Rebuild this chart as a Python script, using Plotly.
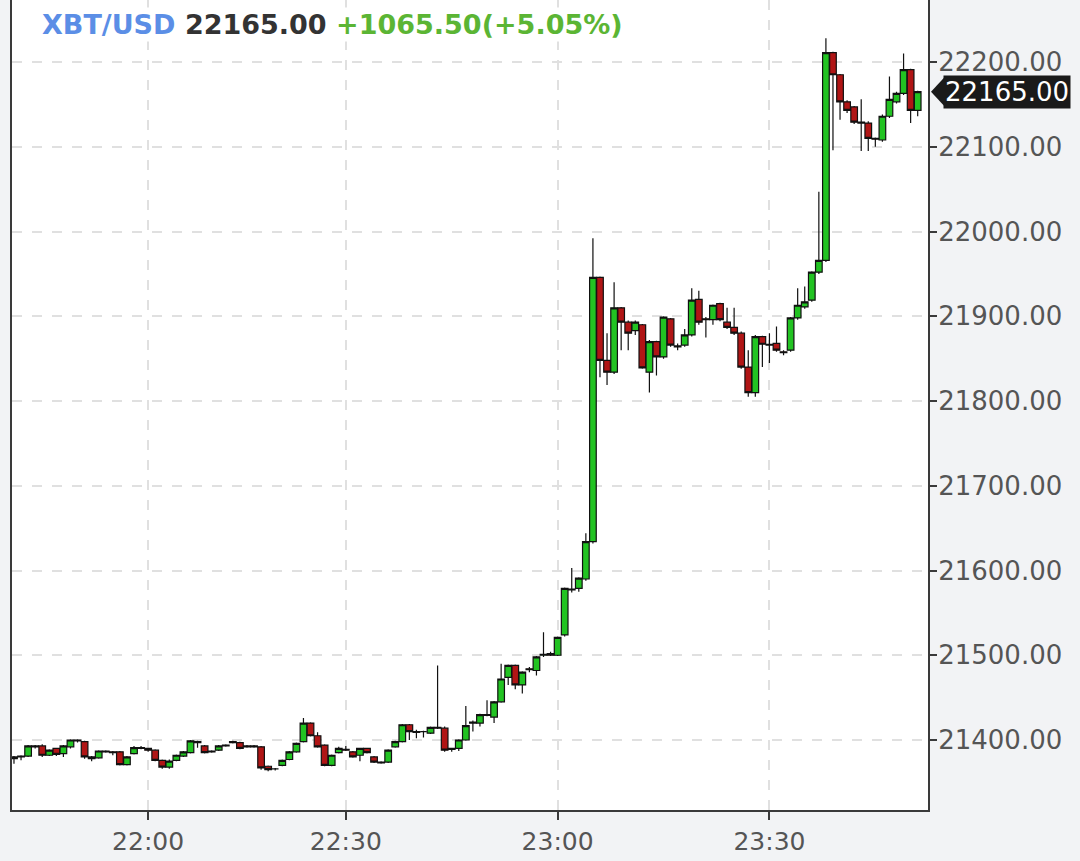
import plotly.graph_objects as go

# ---- data (1-minute bars) ----
opens = [21378, 21380, 21381, 21393, 21393, 21382, 21390, 21384, 21392, 21400,
         21398, 21380, 21379, 21387, 21386, 21386, 21371, 21384, 21391, 21390,
         21388, 21376, 21368, 21376, 21381, 21385, 21398, 21393, 21386, 21388,
         21393, 21397, 21397, 21392, 21393, 21392, 21369, 21366, 21370, 21377,
         21386, 21398, 21420, 21405, 21394, 21370, 21385, 21389, 21386, 21382,
         21390, 21380, 21374, 21374, 21392, 21398, 21418, 21410, 21410, 21408,
         21415, 21414, 21390, 21390, 21400, 21421, 21420, 21430, 21427, 21445,
         21474, 21488, 21465, 21484, 21482, 21500, 21502, 21500, 21524, 21577,
         21579, 21590, 21634, 21946, 21848, 21834, 21910, 21893, 21883, 21890,
         21834, 21870, 21852, 21897, 21865, 21866, 21878, 21920, 21897, 21896,
         21915, 21893, 21887, 21880, 21840, 21810, 21876, 21867, 21868, 21858,
         21860, 21898, 21911, 21919, 21952, 21966, 22211, 22185, 22153, 22147,
         22129, 22128, 22110, 22108, 22136, 22153, 22163, 22191, 22143]
highs = [21381, 21382, 21394, 21394, 21395, 21389, 21391, 21394, 21401, 21401,
         21399, 21381, 21388, 21388, 21387, 21387, 21381, 21393, 21393, 21391,
         21389, 21377, 21377, 21383, 21387, 21400, 21399, 21394, 21388, 21394,
         21395, 21399, 21398, 21394, 21394, 21393, 21370, 21367, 21377, 21387,
         21397, 21426, 21421, 21409, 21395, 21383, 21392, 21393, 21387, 21391,
         21391, 21381, 21375, 21389, 21399, 21419, 21419, 21412, 21411, 21416,
         21488, 21416, 21391, 21401, 21440, 21423, 21431, 21447, 21446, 21490,
         21489, 21489, 21481, 21486, 21499, 21527, 21504, 21522, 21580, 21603,
         21592, 21644, 21992, 21947, 21880, 21940, 21911, 21895, 21895, 21891,
         21872, 21871, 21900, 21898, 21868, 21885, 21933, 21930, 21899, 21914,
         21916, 21910, 21910, 21882, 21860, 21878, 21877, 21880, 21888, 21860,
         21899, 21933, 21935, 21953, 22047, 22228, 22212, 22186, 22155, 22148,
         22156, 22130, 22111, 22138, 22183, 22165, 22210, 22192, 22166]
lows = [21372, 21376, 21380, 21390, 21380, 21381, 21381, 21380, 21390, 21397,
        21378, 21375, 21378, 21385, 21382, 21370, 21370, 21383, 21389, 21386,
        21375, 21366, 21366, 21375, 21380, 21384, 21391, 21384, 21385, 21387,
        21392, 21396, 21389, 21391, 21391, 21365, 21363, 21364, 21369, 21376,
        21385, 21397, 21404, 21391, 21369, 21369, 21384, 21387, 21379, 21375,
        21384, 21373, 21372, 21373, 21391, 21397, 21400, 21402, 21403, 21407,
        21413, 21386, 21386, 21387, 21399, 21410, 21416, 21428, 21420, 21444,
        21465, 21460, 21455, 21480, 21476, 21498, 21499, 21499, 21522, 21574,
        21575, 21588, 21632, 21828, 21819, 21832, 21860, 21860, 21878, 21838,
        21810, 21830, 21850, 21864, 21860, 21864, 21876, 21890, 21875, 21890,
        21894, 21885, 21878, 21838, 21805, 21805, 21840, 21845, 21858, 21854,
        21858, 21896, 21909, 21917, 21950, 21964, 22096, 22132, 22140, 22127,
        22095, 22095, 22100, 22106, 22134, 22151, 22161, 22128, 22136]
closes = [21380, 21381, 21393, 21392, 21382, 21388, 21383, 21393, 21400, 21399,
          21380, 21378, 21387, 21386, 21385, 21371, 21380, 21391, 21390, 21388,
          21376, 21368, 21375, 21382, 21386, 21399, 21397, 21385, 21387, 21393,
          21394, 21398, 21390, 21393, 21392, 21367, 21365, 21366, 21376, 21386,
          21396, 21420, 21405, 21392, 21370, 21382, 21390, 21388, 21380, 21390,
          21385, 21374, 21373, 21388, 21398, 21418, 21410, 21409, 21410, 21415,
          21414, 21388, 21389, 21400, 21417, 21420, 21430, 21429, 21445, 21472,
          21488, 21465, 21480, 21483, 21498, 21501, 21500, 21521, 21579, 21578,
          21591, 21634, 21946, 21848, 21834, 21910, 21893, 21880, 21893, 21839,
          21870, 21852, 21899, 21866, 21864, 21878, 21919, 21893, 21896, 21913,
          21896, 21887, 21880, 21840, 21810, 21876, 21867, 21866, 21860, 21857,
          21898, 21913, 21917, 21952, 21966, 22211, 22185, 22153, 22143, 22129,
          22128, 22110, 22109, 22136, 22156, 22163, 22191, 22143, 22165]

bar_index = list(range(len(closes)))
tick_bars = [19, 47, 77, 107]
tick_labels = ["22:00", "22:30", "23:00", "23:30"]
y_ticks = [21400, 21500, 21600, 21700, 21800, 21900, 22000, 22100, 22200]

symbol = "XBT/USD"
last_price = 22165.00
change = "+1065.50(+5.05%)"

FONT = "DejaVu Sans"
GREEN = "#22c322"
RED = "#b01515"
GRID = "#e0e0e0"
AXIS = "#3a3a3a"
LABEL = "#555555"

fig = go.Figure()
fig.add_trace(go.Candlestick(
    x=bar_index, open=opens, high=highs, low=lows, close=closes,
    increasing=dict(line=dict(color="#111111", width=1.2), fillcolor=GREEN),
    decreasing=dict(line=dict(color="#111111", width=1.2), fillcolor=RED),
    whiskerwidth=0, hoverinfo="skip", showlegend=False,
))

W, H = 1080, 861
ML, MR, MT, MB = 12, 152, 0, 51
plot_w = W - ML - MR
plot_h = H - MT - MB

fig.update_layout(
    width=W, height=H,
    margin=dict(l=ML, r=MR, t=MT, b=MB, pad=0),
    paper_bgcolor="#f2f3f5", plot_bgcolor="#ffffff",
    boxgap=0.06, boxgroupgap=0,
    font=dict(family=FONT, size=26, color=LABEL),
    showlegend=False,
)
fig.update_xaxes(
    range=[-0.28, 129.46],
    rangeslider=dict(visible=False),
    tickmode="array", tickvals=tick_bars, ticktext=tick_labels,
    showgrid=True, gridcolor=GRID, gridwidth=1.5, griddash="10px,10px",
    showline=True, linecolor=AXIS, linewidth=2,
    ticks="outside", ticklen=8, tickwidth=2, tickcolor=AXIS,
    tickfont=dict(family=FONT, size=25, color=LABEL),
    zeroline=False, fixedrange=True,
)
fig.update_yaxes(
    range=[21317.4, 22273.2], side="right",
    tickmode="array", tickvals=y_ticks, tickformat=".2f",
    showgrid=True, gridcolor=GRID, gridwidth=1.5, griddash="10px,10px",
    showline=True, linecolor=AXIS, linewidth=2, mirror=True,
    ticks="outside", ticklen=7, tickwidth=2, tickcolor=AXIS,
    ticklabelstandoff=-4,
    tickfont=dict(family=FONT, size=26, color=LABEL),
    zeroline=False, fixedrange=True,
)

# header text
fig.add_annotation(
    xref="paper", yref="paper", x=(40 - ML) / plot_w, y=1 - 24 / plot_h,
    xanchor="left", yanchor="middle", showarrow=False,
    text=(f"<b><span style='color:#5b8ee6'>{symbol}</span> "
          f"<span style='color:#333333'>{last_price:.2f}</span> "
          f"<span style='color:#5bb534'>{change}</span></b>"),
    font=dict(family=FONT, size=27), bgcolor="#ffffff",
)

# current price marker
units_per_px = (22273.2 - 21317.4) / plot_h
half = 14 * units_per_px
tip = (931 - ML) / plot_w
base = (944 - ML) / plot_w
fig.add_shape(
    type="path", xref="paper", yref="y",
    path=f"M {tip} {last_price} L {base} {last_price + half} L {base} {last_price - half} Z",
    fillcolor="#1a1a1a", line=dict(width=0),
)
fig.add_annotation(
    xref="paper", yref="y", x=(943 - ML) / plot_w, y=last_price,
    xanchor="left", yanchor="middle", showarrow=False,
    text=f"{last_price:.2f}", font=dict(family=FONT, size=26, color="#ffffff"),
    bgcolor="#1a1a1a", borderpad=1,
)

fig.write_html("out.html", config={"displayModeBar": False},
               post_script="document.body.style.margin='0px';")
